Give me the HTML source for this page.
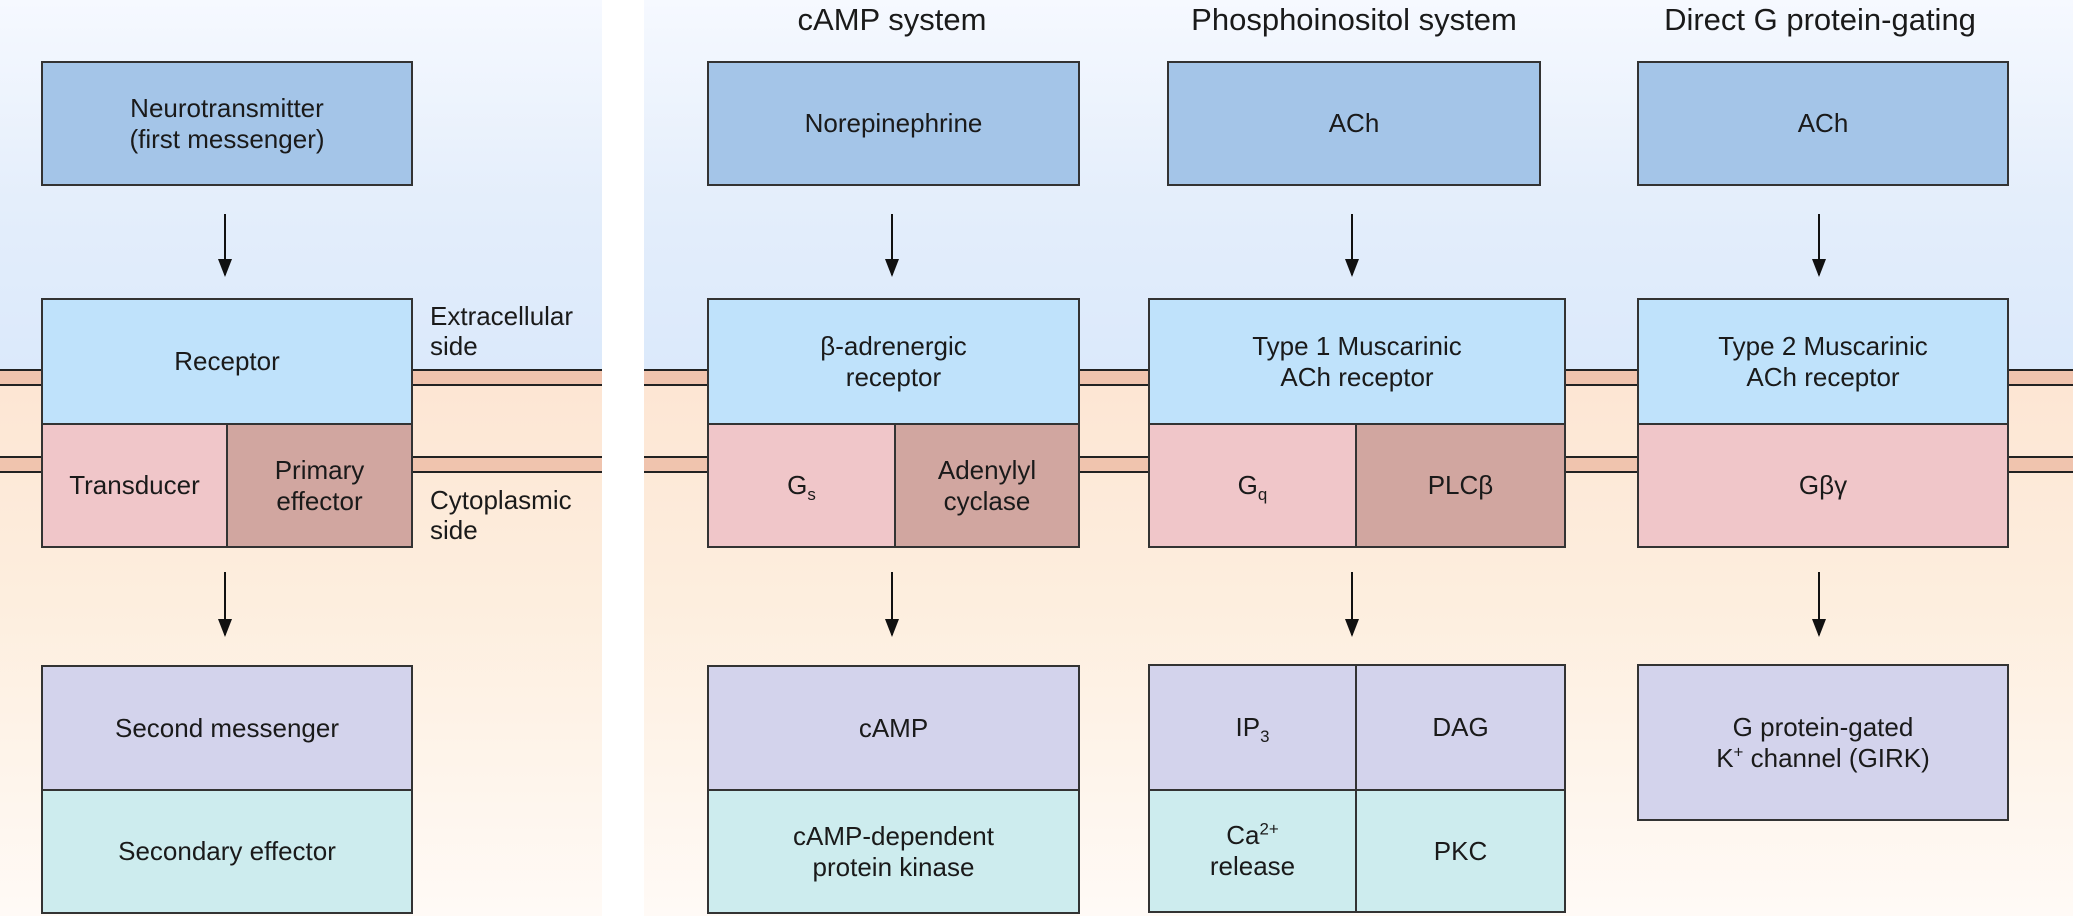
<!DOCTYPE html>
<html><head><meta charset="utf-8"><style>
body{margin:0;width:2073px;height:916px;position:relative;overflow:hidden;background:#fff;font-family:"Liberation Sans",sans-serif;color:#1a1a1a}
.bg{position:absolute;top:0;height:916px;background:linear-gradient(to bottom,#f6f9ff 0px,#e4eefb 200px,#dbe9fb 370px,#fde6d4 387px,#fdeede 600px,#fffaf6 916px)}
.band{position:absolute;height:13px;background:#f0c4ae;border-top:2px solid #222;border-bottom:2px solid #222}
.b{position:absolute;box-sizing:border-box;border:2px solid #333;display:flex;align-items:center;justify-content:center;text-align:center;font-size:26px;line-height:31px}
.blue{background:#a4c5e8}.rec{background:#bfe2fb}.tr{background:#f0c6c9}.ef{background:#d1a6a0}.sm{background:#d3d3ec}.se{background:#cdecee}
.arr{position:absolute;width:2px;background:#111}
.arr:after{content:"";position:absolute;left:-6px;bottom:-2px;border-left:7px solid transparent;border-right:7px solid transparent;border-top:18px solid #111}
.t{position:absolute;font-size:31px;white-space:nowrap;transform:translateX(-50%);top:2px}
.lab{position:absolute;font-family:"Liberation Sans Narrow","Liberation Sans",sans-serif;font-size:26px;line-height:30px}
sub,sup{font-size:65%;line-height:0}
</style></head><body>
<div class="bg" style="left:0;width:602px"></div>
<div class="bg" style="left:644px;width:1429px"></div>
<div class="band" style="left:0;width:602px;top:369px"></div>
<div class="band" style="left:0;width:602px;top:456px"></div>
<div class="band" style="left:644px;width:1429px;top:369px"></div>
<div class="band" style="left:644px;width:1429px;top:456px"></div>

<div class="t" style="left:892px">cAMP system</div>
<div class="t" style="left:1354px">Phosphoinositol system</div>
<div class="t" style="left:1820px">Direct G protein-gating</div>

<!-- left -->
<div class="b blue" style="left:41px;top:61px;width:372px;height:125px"><span>Neurotransmitter<br>(first messenger)</span></div>
<div class="arr" style="left:224px;top:214px;height:61px"></div>
<div class="b rec" style="left:41px;top:298px;width:372px;height:127px"><span>Receptor</span></div>
<div class="b tr" style="left:41px;top:423px;width:187px;height:125px"><span>Transducer</span></div>
<div class="b ef" style="left:226px;top:423px;width:187px;height:125px"><span>Primary<br>effector</span></div>
<div class="lab" style="left:430px;top:301px">Extracellular<br>side</div>
<div class="lab" style="left:430px;top:485px">Cytoplasmic<br>side</div>
<div class="arr" style="left:224px;top:572px;height:63px"></div>
<div class="b sm" style="left:41px;top:665px;width:372px;height:126px"><span>Second messenger</span></div>
<div class="b se" style="left:41px;top:789px;width:372px;height:125px"><span>Secondary effector</span></div>

<!-- cAMP -->
<div class="b blue" style="left:707px;top:61px;width:373px;height:125px"><span>Norepinephrine</span></div>
<div class="arr" style="left:891px;top:214px;height:61px"></div>
<div class="b rec" style="left:707px;top:298px;width:373px;height:127px"><span>β-adrenergic<br>receptor</span></div>
<div class="b tr" style="left:707px;top:423px;width:189px;height:125px"><span>G<sub>s</sub></span></div>
<div class="b ef" style="left:894px;top:423px;width:186px;height:125px"><span>Adenylyl<br>cyclase</span></div>
<div class="arr" style="left:891px;top:572px;height:63px"></div>
<div class="b sm" style="left:707px;top:665px;width:373px;height:126px"><span>cAMP</span></div>
<div class="b se" style="left:707px;top:789px;width:373px;height:125px"><span>cAMP-dependent<br>protein kinase</span></div>

<!-- phospho -->
<div class="b blue" style="left:1167px;top:61px;width:374px;height:125px"><span>ACh</span></div>
<div class="arr" style="left:1351px;top:214px;height:61px"></div>
<div class="b rec" style="left:1148px;top:298px;width:418px;height:127px"><span>Type 1 Muscarinic<br>ACh receptor</span></div>
<div class="b tr" style="left:1148px;top:423px;width:209px;height:125px"><span>G<sub>q</sub></span></div>
<div class="b ef" style="left:1355px;top:423px;width:211px;height:125px"><span>PLCβ</span></div>
<div class="arr" style="left:1351px;top:572px;height:63px"></div>
<div class="b sm" style="left:1148px;top:664px;width:209px;height:127px"><span>IP<sub>3</sub></span></div>
<div class="b sm" style="left:1355px;top:664px;width:211px;height:127px"><span>DAG</span></div>
<div class="b se" style="left:1148px;top:789px;width:209px;height:124px"><span>Ca<sup>2+</sup><br>release</span></div>
<div class="b se" style="left:1355px;top:789px;width:211px;height:124px"><span>PKC</span></div>

<!-- direct -->
<div class="b blue" style="left:1637px;top:61px;width:372px;height:125px"><span>ACh</span></div>
<div class="arr" style="left:1818px;top:214px;height:61px"></div>
<div class="b rec" style="left:1637px;top:298px;width:372px;height:127px"><span>Type 2 Muscarinic<br>ACh receptor</span></div>
<div class="b tr" style="left:1637px;top:423px;width:372px;height:125px"><span>Gβγ</span></div>
<div class="arr" style="left:1818px;top:572px;height:63px"></div>
<div class="b sm" style="left:1637px;top:664px;width:372px;height:157px"><span>G protein-gated<br>K<sup>+</sup> channel (GIRK)</span></div>
</body></html>
